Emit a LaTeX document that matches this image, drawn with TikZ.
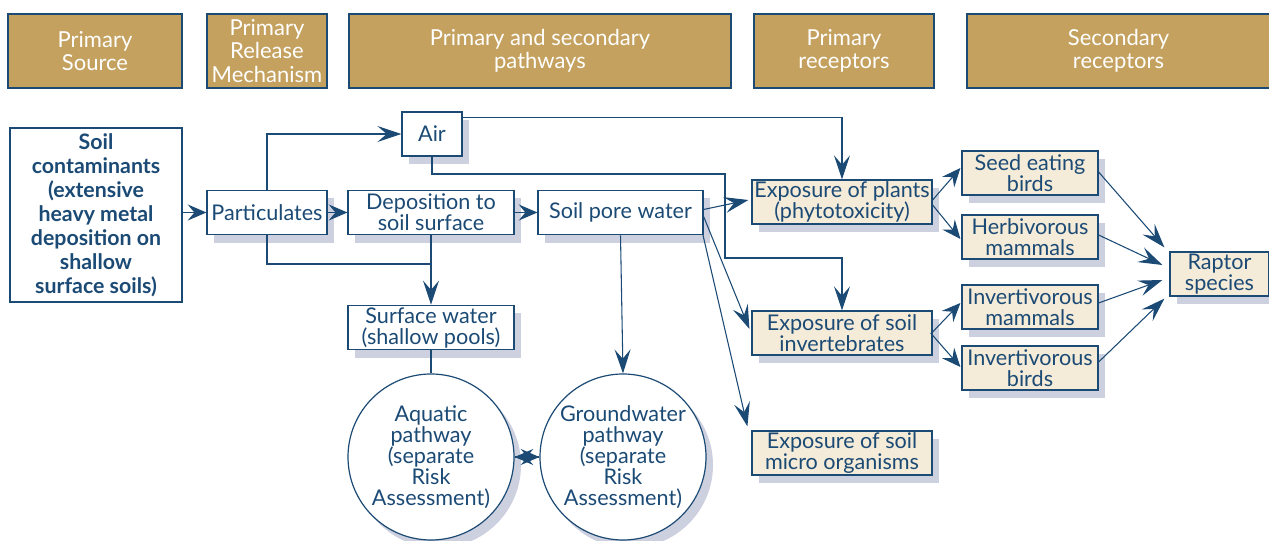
\documentclass[tikz,border=0pt]{standalone}
\usepackage{fontspec}
\setmainfont{Lato}
\usetikzlibrary{arrows.meta,calc,shadows}
\definecolor{navy}{RGB}{27,74,117}
\definecolor{tan}{RGB}{196,161,94}
\definecolor{cream}{RGB}{244,235,216}
\definecolor{shade}{RGB}{205,208,222}
\begin{document}
\begin{tikzpicture}[x=0.75pt,y=-0.75pt,
  txt/.style={font=\fontsize{16.2}{15.75}\selectfont, text=navy, align=center, inner sep=0pt},
  hdr/.style={draw=navy, line width=1.5pt, fill=tan, text=white, align=center, inner sep=0pt,
    font=\fontsize{16.5}{17.6}\selectfont, minimum height=55.5pt},
  shd/.style={drop shadow={shadow xshift=5.25pt, shadow yshift=-6pt, fill=shade, opacity=1}},
  wbox/.style={txt, draw=navy, line width=0.9pt, fill=white, shd, minimum height=33.5pt},
  cbox/.style={txt, draw=navy, line width=0.9pt, fill=cream, shd, minimum height=33pt},
  circ/.style={txt, circle, draw=navy, line width=0.9pt, fill=white, shd, minimum size=124.5pt},
  arr/.style={draw=navy, line width=0.8pt, -{Stealth[length=18pt, width=12pt, inset=7pt]}},
  sarr/.style={draw=navy, line width=0.8pt, -{Stealth[length=14pt, width=12pt, inset=5pt]}},
  ln/.style={draw=navy, line width=0.8pt}
]
\useasboundingbox (0,0) rectangle (1269,541);
% headers
\node[hdr, minimum width=130.5pt] (h1) at (95,51) {Primary\\Source};
\node[hdr, minimum width=90pt] (h2) at (267,51) {Primary\\Release\\Mechanism};
\node[hdr, minimum width=286.5pt] (h3) at (540,51) {Primary and secondary\\pathways};
\node[hdr, minimum width=135pt] (h4) at (844,51) {Primary\\receptors};
\node[hdr, minimum width=228pt] (h5) at (1118.5,51) {Secondary\\receptors};
% source
\node[txt, draw=navy, line width=1.5pt, minimum width=129pt, minimum height=130.5pt,
  font=\bfseries\fontsize{16}{18}\selectfont] (src) at (96,215)
  {Soil\\contaminants\\(extensive\\heavy metal\\deposition on\\shallow\\surface soils)};
% pathway boxes
\node[wbox, minimum width=90pt] (part) at (267,212.5) {Particulates};
\node[wbox, minimum width=124.5pt] (dep) at (431,212.5) {Deposition to\\soil surface};
\node[wbox, minimum width=123.75pt] (spw) at (620.5,212.5) {Soil pore water};
\node[wbox, minimum width=45pt, minimum height=33pt] (air) at (432,134) {Air};
\node[wbox, minimum width=124.5pt] (sw) at (431,327.5) {Surface water\\(shallow pools)};
\node[circ] (aq) at (431,457) {Aquatic\\pathway\\(separate\\Risk\\Assessment)};
\node[circ] (gw) at (623,457) {Groundwater\\pathway\\(separate\\Risk\\Assessment)};
% receptors
\node[cbox, minimum width=135pt] (pl) at (842,202) {Exposure of plants\\(phytotoxicity)};
\node[cbox, minimum width=135pt] (inv) at (842,333) {Exposure of soil\\invertebrates};
\node[cbox, minimum width=135pt] (mic) at (842,453) {Exposure of soil\\micro organisms};
\node[cbox, minimum width=102pt] (seed) at (1030,173) {Seed eating\\birds};
\node[cbox, minimum width=102pt] (herb) at (1030,237) {Herbivorous\\mammals};
\node[cbox, minimum width=102pt] (invm) at (1030,307) {Invertivorous\\mammals};
\node[cbox, minimum width=102pt] (invb) at (1030,368) {Invertivorous\\birds};
\node[cbox, minimum width=74.25pt] (rap) at (1219.5,274) {Raptor\\species};
% junction coordinates
\coordinate (j) at (432,264);
\coordinate (c1) at (725,174);
\coordinate (c2) at (725,258);
% connectors
\draw[sarr] (src.east |- part.west) -- (part.west);
\draw[sarr] (part.east) -- (dep.west);
\draw[sarr] (dep.east) -- (spw.west);
\draw[arr] (part.north) |- (air.west);
\draw[ln] (part.south) |- (j);
\draw[arr] (dep.south) -- (sw.north);
\draw[ln] (sw.south) -- (aq.north);
\draw[arr] (spw.south) -- (gw.north);
\draw[sarr] (aq.east) -- (gw.west);
\draw[sarr] (gw.west) -- (aq.east);
\draw[arr] ($(air.north east)+(0,6)$) -| (pl.north);
\draw[arr] (air.south) |- (c1) -- (c2) -| (inv.north);
\draw[arr] ($(spw.east)+(0,-3)$) -- ($(pl.west)+(-3,-2)$);
\draw[arr] ($(spw.east)+(0,4)$) -- ($(inv.west)+(-2,-4)$);
\draw[arr] ($(spw.south east)+(-1,-2)$) -- ($(mic.north west)+(-4,-4)$);
\draw[sarr] ($(pl.east)+(0,-2)$) -- ($(seed.west)+(-1,-5)$);
\draw[sarr] ($(pl.east)+(0,3)$) -- ($(herb.west)+(-1,2)$);
\draw[sarr] ($(inv.east)+(0,-1)$) -- ($(invm.west)+(-1,-4)$);
\draw[sarr] ($(inv.east)+(-2,0)$) -- ($(invb.west)+(-1,-1)$);
\draw[arr] ($(seed.east)+(0,-1)$) -- ($(rap.north west)+(-5,-4)$);
\draw[arr] ($(herb.east)+(0,-2)$) -- ($(rap.west)+(-7,-9)$);
\draw[arr] ($(invm.east)+(0,-4)$) -- ($(rap.west)+(-7,6)$);
\draw[arr] ($(invb.east)+(0,-6)$) -- ($(rap.south west)+(-5,2)$);
\end{tikzpicture}
\end{document}
